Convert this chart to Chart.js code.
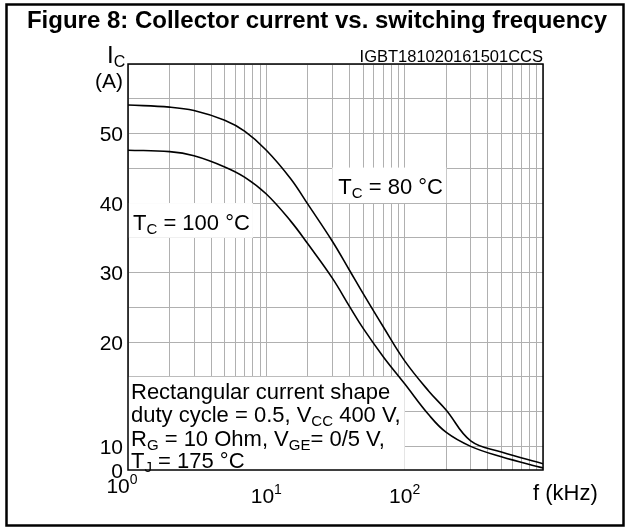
<!DOCTYPE html>
<html>
<head>
<meta charset="utf-8">
<script src="https://cdn.jsdelivr.net/npm/chart.js@4"></script>
<style>
  html, body { margin: 0; padding: 0; background: #fff; }
  #wrap { width: 629px; height: 531px; }
</style>
</head>
<body>
<div id="wrap"><canvas id="chart" width="629" height="531"></canvas></div>
<script>
// switching frequency (kHz) and collector current (A)
const freqKHz = [1, 2, 3, 5, 7, 10, 15, 20, 30, 40, 50, 70, 100, 150, 200, 300, 500, 1000];
const icTc80  = [54.1, 53.8, 53.3, 51.9, 50.3, 47.6, 43.5, 39.8, 34.5, 30.3, 27.0, 22.2, 17.3, 12.9, 10.2, 5.8, 4.2, 2.5];
const icTc100 = [47.6, 47.4, 46.8, 45.2, 43.7, 41.3, 37.4, 34.1, 29.2, 25.1, 22.0, 17.9, 14.0, 9.5, 7.0, 5.0, 3.5, 1.9];

// axis ticks as printed on the figure
const xGrid = [1, 2, 3, 4, 5, 6, 7, 8, 9, 10, 20, 30, 40, 50, 60, 70, 80, 90, 100, 200, 300, 400, 500, 600, 700, 800, 900, 1000];
const xTickValues = [1, 10, 100];
const xTickExp = ['0', '1', '2'];
const yGrid = [5, 10, 15, 20, 25, 30, 35, 40, 45, 50, 55, 60];
const yMin = 1.6;
const yMax = 60;
const yTickValues = [yMin, 5, 20, 30, 40, 50];
const yTickText = ['0', '10', '20', '30', '40', '50'];

const FONT = '"Liberation Sans", Arial, sans-serif';
const gridColor = '#b0b0b0';

// draws text pieces; part = [text, 'n' | 'sub' | 'sup']
function rich(ctx, parts, x, y, size, align) {
    const subSize = Math.round(size * 0.66);
    let w = 0;
    parts.forEach(([t, k]) => {
        ctx.font = (k === 'n' ? size : subSize) + 'px ' + FONT;
        w += ctx.measureText(t).width;
    });
    let cx = align === 'right' ? x - w : align === 'center' ? x - w / 2 : x;
    ctx.textAlign = 'left';
    ctx.textBaseline = 'alphabetic';
    parts.forEach(([t, k]) => {
        ctx.font = (k === 'n' ? size : subSize) + 'px ' + FONT;
        const dy = k === 'sub' ? size * 0.18 : k === 'sup' ? -size * 0.45 : 0;
        ctx.fillText(t, cx, y + dy);
        cx += ctx.measureText(t).width;
    });
}

function box(ctx, x0, y0, x1, y1) {
    ctx.fillStyle = '#fff';
    ctx.fillRect(x0, y0, x1 - x0, y1 - y0);
}

const decor = {
    id: 'decor',
    beforeDraw(chart) {
        const ctx = chart.ctx;
        ctx.save();
        ctx.fillStyle = '#fff';
        ctx.fillRect(0, 0, chart.width, chart.height);
        ctx.restore();
    },
    beforeDatasetsDraw(chart) {
        const { ctx, scales: { x, y }, chartArea: a } = chart;
        ctx.save();
        // label boxes hide the grid behind them
        box(ctx, x.getPixelForValue(30), y.getPixelForValue(45.1), x.getPixelForValue(200), y.getPixelForValue(40));
        box(ctx, a.left, y.getPixelForValue(40), x.getPixelForValue(8), y.getPixelForValue(35));
        box(ctx, a.left, y.getPixelForValue(15), x.getPixelForValue(100), a.bottom);
        ctx.restore();
    },
    afterDatasetsDraw(chart) {
        const { ctx, chartArea: a } = chart;
        ctx.save();
        ctx.strokeStyle = '#000';
        ctx.lineWidth = 1.5;
        ctx.strokeRect(a.left, a.top, a.right - a.left, a.bottom - a.top);
        ctx.restore();
    },
    afterDraw(chart) {
        const { ctx, scales: { x, y }, chartArea: a } = chart;
        ctx.save();
        ctx.fillStyle = '#000';

        // outer frame
        ctx.strokeStyle = '#000';
        ctx.lineWidth = 2.5;
        ctx.strokeRect(6.5, 4.5, 617, 521);

        // title
        ctx.font = 'bold 24px ' + FONT;
        ctx.textAlign = 'center';
        ctx.fillText('Figure 8: Collector current vs. switching frequency', 317, 28);

        // drawing code
        ctx.font = '16.5px ' + FONT;
        ctx.textAlign = 'right';
        ctx.fillText('IGBT181020161501CCS', a.right, a.top - 2);

        // y axis title
        rich(ctx, [['I', 'n'], ['C', 'sub']], 107, 63, 24, 'left');
        rich(ctx, [['(A)', 'n']], a.left - 5, 88, 21, 'right');

        // y tick labels
        yTickValues.forEach((v, i) => {
            rich(ctx, [[yTickText[i], 'n']], a.left - 5, y.getPixelForValue(v) + 7.5, 21, 'right');
        });

        // x tick labels (10^n)
        xTickValues.forEach((v, i) => {
            const px = x.getPixelForValue(v) + (i === 0 ? -6 : 0);
            const by = i === 0 ? 493 : 503;
            rich(ctx, [['10', 'n'], [xTickExp[i], 'sup']], px, by, 21, 'center');
        });
        rich(ctx, [['f (kHz)', 'n']], 533, 500, 22, 'left');

        // curve labels
        rich(ctx, [['T', 'n'], ['C', 'sub'], [' = 80 °C', 'n']], x.getPixelForValue(30) + 6, 194, 22, 'left');
        rich(ctx, [['T', 'n'], ['C', 'sub'], [' = 100 °C', 'n']], a.left + 5, 230, 22, 'left');

        // test conditions
        const lx = a.left + 3;
        rich(ctx, [['Rectangular current shape', 'n']], lx, 399, 22, 'left');
        rich(ctx, [['duty cycle = 0.5, V', 'n'], ['CC', 'sub'], [' 400 V,', 'n']], lx, 422, 22, 'left');
        rich(ctx, [['R', 'n'], ['G', 'sub'], [' = 10 Ohm, V', 'n'], ['GE', 'sub'], ['= 0/5 V,', 'n']], lx, 446, 22, 'left');
        rich(ctx, [['T', 'n'], ['J', 'sub'], [' = 175 °C', 'n']], lx, 468, 22, 'left');
        ctx.restore();
    }
};

const toPoints = arr => arr.map((v, i) => ({ x: freqKHz[i], y: v }));

new Chart(document.getElementById('chart'), {
    type: 'line',
    data: {
        datasets: [
            { label: 'TC = 80 °C', data: toPoints(icTc80) },
            { label: 'TC = 100 °C', data: toPoints(icTc100) }
        ].map(d => Object.assign(d, {
            borderColor: '#000',
            borderWidth: 1.6,
            pointRadius: 0,
            fill: false,
            tension: 0.4
        }))
    },
    options: {
        responsive: false,
        animation: false,
        events: [],
        layout: { padding: { left: 128, right: 86, top: 64, bottom: 61 } },
        plugins: { legend: { display: false }, tooltip: { enabled: false } },
        scales: {
            x: {
                type: 'logarithmic',
                min: 1,
                max: 1000,
                afterBuildTicks: s => { s.ticks = xGrid.map(v => ({ value: v })); },
                afterFit: s => { s.height = 0; },
                ticks: { display: false },
                grid: { color: gridColor, lineWidth: 1, drawTicks: false },
                border: { display: false }
            },
            y: {
                type: 'linear',
                min: yMin,
                max: yMax,
                afterBuildTicks: s => { s.ticks = yGrid.map(v => ({ value: v })); },
                afterFit: s => { s.width = 0; },
                ticks: { display: false },
                grid: { color: gridColor, lineWidth: 1, drawTicks: false },
                border: { display: false }
            }
        }
    },
    plugins: [decor]
});
</script>
</body>
</html>
